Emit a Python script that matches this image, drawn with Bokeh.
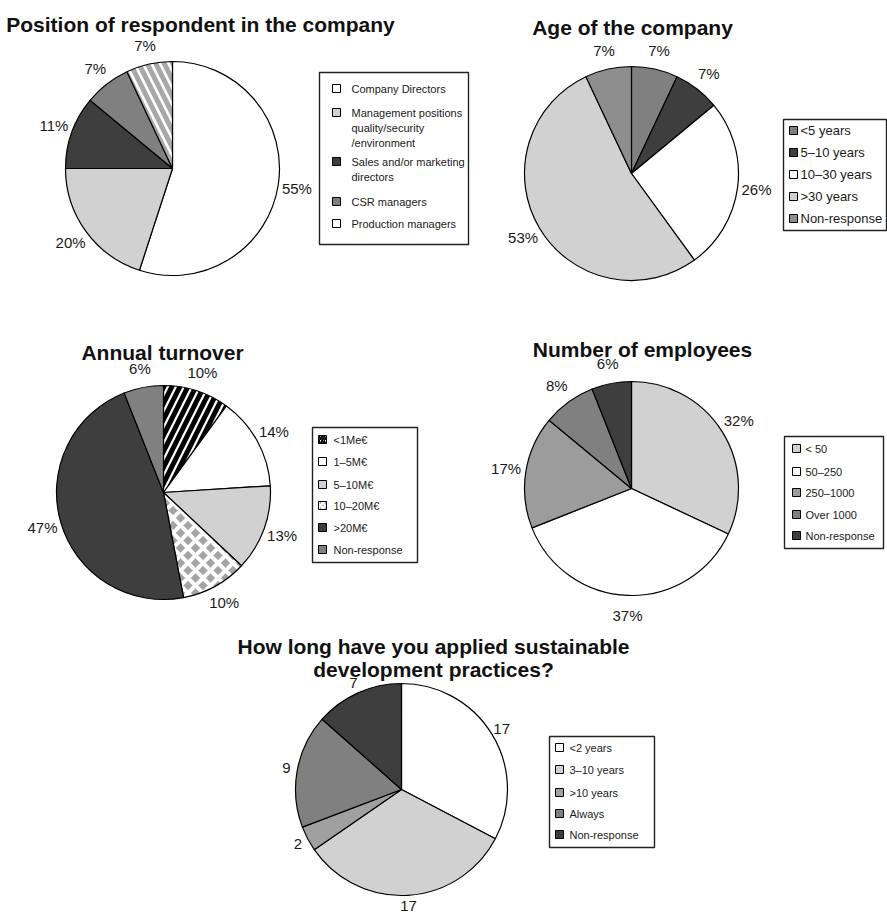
import numpy as np
from bokeh.plotting import figure
from bokeh.models import Range1d, ColumnDataSource
from bokeh.core.properties import value
from bokeh.embed import file_html
from bokeh.resources import INLINE

W, H = 887, 915

# ---------------- survey data ----------------
position_labels = ["Company Directors",
                   "Management positions\nquality/security\n/environment",
                   "Sales and/or marketing\ndirectors",
                   "CSR managers",
                   "Production managers"]
position_values = [55, 20, 11, 7, 7]

age_labels = ["<5 years", "5\u201310 years", "10\u201330 years", ">30 years", "Non-response"]
age_values = [7, 7, 26, 53, 7]

turnover_labels = ["<1Me\u20ac", "1\u20135M\u20ac", "5\u201310M\u20ac", "10\u201320M\u20ac", ">20M\u20ac", "Non-response"]
turnover_values = [10, 14, 13, 10, 47, 6]

employees_labels = ["< 50", "50\u2013250", "250\u20131000", "Over 1000", "Non-response"]
employees_values = [32, 37, 17, 8, 6]

practice_labels = ["<2 years", "3\u201310 years", ">10 years", "Always", "Non-response"]
practice_values = [17, 17, 2, 9, 7]

# ---------------- styling ----------------
FONT = value("Liberation Sans")
WHITE, LIGHT, MID, GREY, DARK = "#ffffff", "#d0d1d0", "#808080", "#a0a0a0", "#3e3e3e"
NONE_H = (" ", "black", 1, 10)

charts = [
    dict(title=["Position of respondent in the company"], title_x=200, title_y=[24],
         labels=position_labels, values=position_values,
         cx=172, cy=168, r=107, lab_off=19, pct=True,
         colors=[WHITE, LIGHT, DARK, MID, WHITE],
         hatches=[NONE_H, NONE_H, NONE_H, NONE_H, ("\\", "#a8a8a8", 5, 17)],
         swatch_hatch=[False] * 5,
         box=(319, 468, 72, 244), sq_x=336, tx=351, rows=[88, 112, 161, 201, 223],
         line_gap=15, font="11px"),
    dict(title=["Age of the company"], title_x=632, title_y=[27],
         labels=age_labels, values=age_values,
         cx=631, cy=173, r=107, lab_off=19, pct=True,
         colors=[MID, DARK, WHITE, LIGHT, "#8e8e8e"],
         hatches=[NONE_H] * 5, swatch_hatch=[False] * 5,
         box=(783, 886, 119, 230), sq_x=793, tx=800, rows=[130, 152, 174, 196, 218],
         line_gap=15, font="13px"),
    dict(title=["Annual turnover"], title_x=162, title_y=[352],
         labels=turnover_labels, values=turnover_values,
         cx=163, cy=492, r=107, lab_off=19, pct=True,
         colors=[WHITE, WHITE, LIGHT, "#a4a4a4", DARK, MID],
         hatches=[("/", "black", 5, 16), NONE_H, NONE_H, ("x", "white", 4, 15), NONE_H, NONE_H],
         swatch_hatch=[True, False, False, True, False, False],
         box=(312, 417, 427, 562), sq_x=322, tx=333, rows=[439, 461, 484, 505, 527, 549],
         line_gap=15, font="11px"),
    dict(title=["Number of employees"], title_x=642, title_y=[349],
         labels=employees_labels, values=employees_values,
         cx=631, cy=488, r=107, lab_off=20, pct=True,
         colors=[LIGHT, WHITE, "#9c9c9c", MID, DARK],
         hatches=[NONE_H] * 5, swatch_hatch=[False] * 5,
         box=(784, 883, 436, 548), sq_x=796, tx=805, rows=[448, 471, 492, 514, 535],
         line_gap=15, font="11px"),
    dict(title=["How long have you applied sustainable", "development practices?"],
         title_x=433, title_y=[646, 669],
         labels=practice_labels, values=practice_values,
         cx=401, cy=789, r=106, lab_off=11, pct=False,
         colors=[WHITE, LIGHT, GREY, MID, DARK],
         hatches=[NONE_H] * 5, swatch_hatch=[False] * 5,
         box=(549, 654, 736, 847), sq_x=559, tx=569, rows=[747, 769, 792, 813, 834],
         line_gap=15, font="11px"),
]


def Y(ypix):
    return H - ypix


p = figure(width=W, height=H, x_range=Range1d(0, W), y_range=Range1d(0, H),
           output_backend="svg", toolbar_location=None,
           x_axis_location=None, y_axis_location=None,
           min_border=0, outline_line_color=None)
p.grid.visible = False
p.background_fill_color = "white"
p.border_fill_color = "white"

for c in charts:
    vals = np.array(c["values"], dtype=float)
    n = len(vals)
    cum = np.concatenate([[0.0], np.cumsum(vals / vals.sum())])
    # clockwise from twelve o'clock
    start = np.pi / 2 - 2 * np.pi * cum[1:]
    end = np.pi / 2 - 2 * np.pi * cum[:-1]
    hp = [h[0] for h in c["hatches"]]
    hc = [h[1] for h in c["hatches"]]
    hw = [h[2] for h in c["hatches"]]
    hs = [h[3] for h in c["hatches"]]
    src = ColumnDataSource(dict(x=[c["cx"]] * n, y=[Y(c["cy"])] * n, start=start, end=end,
                                fill=c["colors"], hp=hp, hc=hc, hw=hw, hs=hs))
    p.wedge(x="x", y="y", radius=c["r"], start_angle="start", end_angle="end",
            direction="anticlock", fill_color="fill", line_color="black", line_width=1.2,
            hatch_pattern="hp", hatch_color="hc", hatch_weight="hw", hatch_scale="hs",
            source=src)

    # value labels just outside each slice
    mid = np.pi * (cum[:-1] + cum[1:])
    d = c["r"] + c["lab_off"]
    lx = c["cx"] + d * np.sin(mid)
    ly = Y(c["cy"]) + d * np.cos(mid)
    txt = [f"{v}%" if c["pct"] else f"{v}" for v in c["values"]]
    p.text(x=lx, y=ly, text=txt, text_align="center", text_baseline="middle",
           text_font=FONT, text_font_size="15px", text_color="#1a1a1a")

    # title
    for line, ty in zip(c["title"], c["title_y"]):
        p.text(x=[c["title_x"]], y=[Y(ty)], text=[line], text_align="center",
               text_baseline="alphabetic", text_font=FONT, text_font_size="21px",
               text_font_style="bold", text_color="#111111")

    # legend frame
    l, rgt, t, b = c["box"]
    p.quad(left=[l], right=[rgt], top=[Y(t)], bottom=[Y(b)], fill_color="white",
           line_color="#222222", line_width=1.4)

    # legend swatches
    sp = [h if on else " " for h, on in zip(hp, c["swatch_hatch"])]
    lsrc = ColumnDataSource(dict(x=[c["sq_x"]] * n, y=[Y(v) for v in c["rows"]],
                                 fill=c["colors"], hp=sp, hc=hc,
                                 hw=[max(1, w // 2) for w in hw], hs=[5] * n))
    p.rect(x="x", y="y", width=8, height=8, fill_color="fill", line_color="black",
           line_width=1, hatch_pattern="hp", hatch_color="hc", hatch_weight="hw",
           hatch_scale="hs", source=lsrc)

    xs, ys, ts = [], [], []
    for lab, ry in zip(c["labels"], c["rows"]):
        for k, part in enumerate(lab.split("\n")):
            xs.append(c["tx"])
            ys.append(Y(ry + k * c["line_gap"]))
            ts.append(part)
    p.text(x=xs, y=ys, text=ts, text_align="left", text_baseline="middle",
           text_font=FONT, text_font_size=c["font"], text_color="#1a1a1a")

open("out.html", "w").write(file_html(p, INLINE))
